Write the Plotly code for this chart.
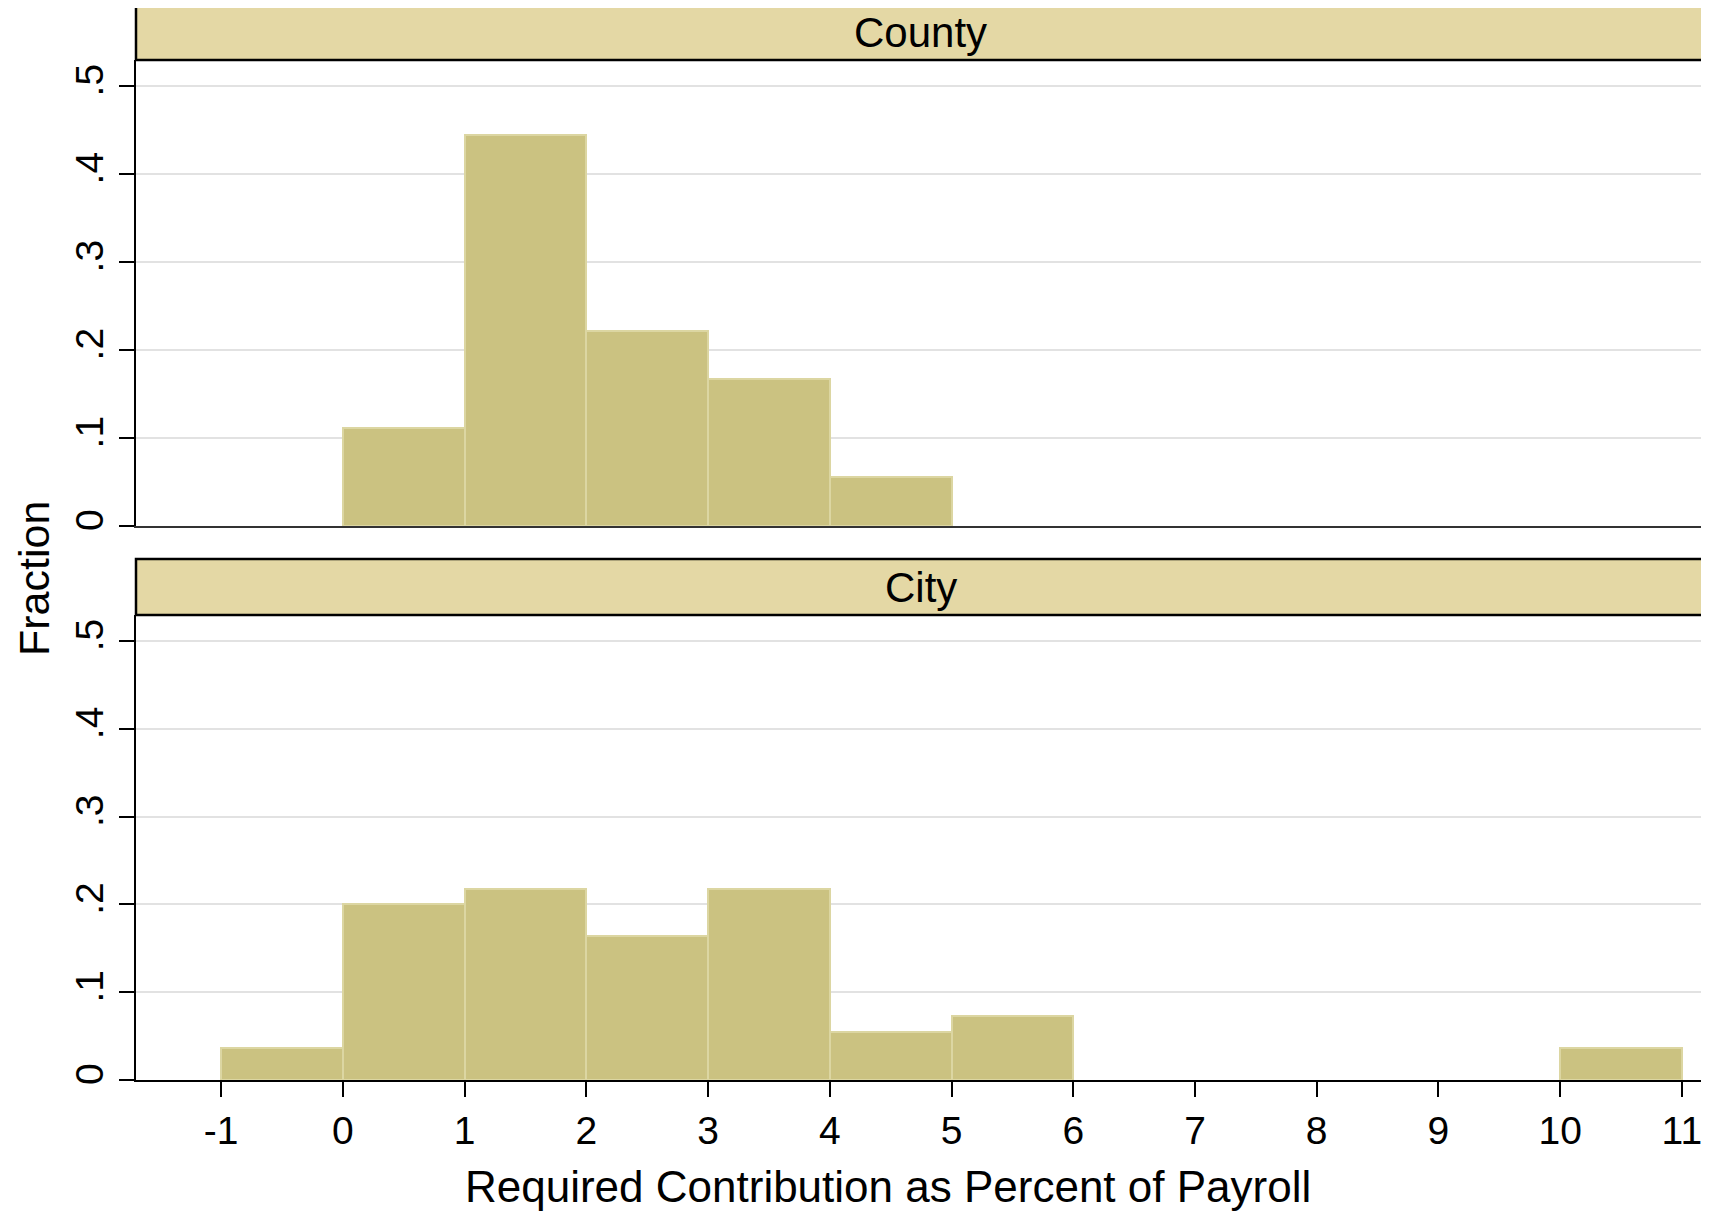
import plotly.graph_objects as go

# Data
bin_left = [-1, 0, 1, 2, 3, 4, 5, 6, 7, 8, 9, 10]
county_frac = [0, 0.111, 0.444, 0.222, 0.167, 0.056, 0, 0, 0, 0, 0, 0]
city_frac = [0.0364, 0.200, 0.218, 0.164, 0.218, 0.0545, 0.0727, 0, 0, 0, 0, 0.0364]
panels = ["County", "City"]
x_ticks = list(range(-1, 12))
x_ticktext = ["-1", "0", "1", "2", "3", "4", "5", "6", "7", "8", "9", "10", "11"]
y_ticks = [0, 0.1, 0.2, 0.3, 0.4, 0.5]
y_ticktext = ["0", ".1", ".2", ".3", ".4", ".5"]

BAR = "#CBC281"
EDGE = "#DCD6A2"
STRIP = "#E4D8A5"
GRID = "#E2E2E2"
FONT = "Liberation Sans, Arial, sans-serif"

OFF = 8  # page body margin
W, H = 1709 - OFF, 1211 - OFF
ml, mr, mt, mb = 136 - OFF, 4, 0, 1211 - 1080
ph = H - mt - mb
def py(pix):
    return (1080 - pix) / ph
def px(pix):
    return (pix - 136) / (W - ml - mr)

top_dom = [py(526), py(60)]
bot_dom = [0, py(615)]
strip1 = [py(60), py(6)]
strip2 = [py(615), py(559)]

fig = go.Figure()
mids = [b + 0.5 for b in bin_left]
for vals, xa, ya in [(county_frac, "x", "y"), (city_frac, "x2", "y2")]:
    xs = [m for m, v in zip(mids, vals) if v > 0]
    ys = [v for v in vals if v > 0]
    fig.add_trace(go.Bar(x=xs, y=ys, width=1, xaxis=xa, yaxis=ya,
                         marker=dict(color=BAR, line=dict(color=EDGE, width=2)),
                         showlegend=False))

xr = [-1.70, 11.19]
yr = [0, 0.5295]
common_y = dict(range=yr, tickvals=y_ticks, ticktext=y_ticktext, tickangle=-90,
                showgrid=True, gridcolor=GRID, gridwidth=2, zeroline=False,
                showline=True, linecolor="black", linewidth=2, mirror=True,
                ticks="outside", ticklen=15, tickwidth=2, tickcolor="black",
                tickfont=dict(family=FONT, size=39, color="black"),
                ticklabelstandoff=0)
fig.update_layout(
    width=W, height=H,
    margin=dict(l=ml, r=mr, t=mt, b=mb),
    paper_bgcolor="white", plot_bgcolor="white",
    bargap=0,
    xaxis=dict(domain=[0, 1], range=xr, anchor="y", showticklabels=False, ticks="",
               showgrid=False, zeroline=False, showline=True, linecolor="#333333", linewidth=2),
    yaxis=dict(domain=top_dom, anchor="x", **common_y),
    xaxis2=dict(domain=[0, 1], range=xr, anchor="y2", tickvals=x_ticks, ticktext=x_ticktext,
                ticks="outside", ticklen=15, tickwidth=2, tickcolor="black",
                tickfont=dict(family=FONT, size=39, color="black"),
                showgrid=False, zeroline=False, showline=True, linecolor="black", linewidth=2),
    yaxis2=dict(domain=bot_dom, anchor="x2", **common_y),
)

for name, (s0, s1) in zip(panels, [strip1, strip2]):
    fig.add_shape(type="rect", xref="paper", yref="paper", x0=0, x1=1, y0=s0, y1=s1,
                  fillcolor=STRIP, line=dict(color="black", width=2.5), layer="above")
    fig.add_annotation(text=name, xref="paper", yref="paper", x=0.5, y=(s0 + s1) / 2,
                       showarrow=False, font=dict(family=FONT, size=42, color="black"),
                       xanchor="center", yanchor="middle")

fig.add_annotation(text="Fraction", xref="paper", yref="paper",
                   x=px(34), y=py(578), textangle=-90, borderpad=0,
                   showarrow=False, font=dict(family=FONT, size=43, color="black"),
                   xanchor="center", yanchor="middle")
fig.add_annotation(text="Required Contribution as Percent of Payroll", xref="paper", yref="paper",
                   x=px(888), y=py(1186),
                   showarrow=False, font=dict(family=FONT, size=44, color="black"),
                   xanchor="center", yanchor="middle")

fig.write_html("out.html")
